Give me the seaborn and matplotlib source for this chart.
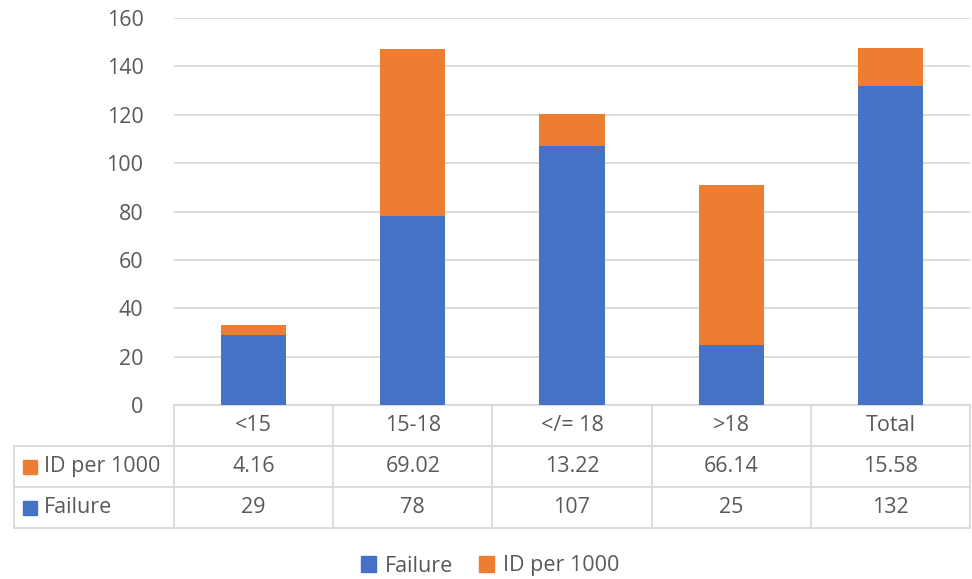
import matplotlib
matplotlib.use("Agg")
import matplotlib.pyplot as plt
import pandas as pd
import seaborn as sns
from matplotlib.patches import Rectangle

categories = ["<15", "15-18", "</= 18", ">18", "Total"]
failure = [29, 78, 107, 25, 132]
id_per_1000 = [4.16, 69.02, 13.22, 66.14, 15.58]
id_labels = ["4.16", "69.02", "13.22", "66.14", "15.58"]
failure_labels = ["29", "78", "107", "25", "132"]

blue = "#4472C4"
orange = "#ED7D31"
grid_c = "#D9D9D9"
text_c = "#595959"

df = pd.DataFrame({"cat": categories, "failure": failure, "id": id_per_1000})
df["total"] = df["failure"] + df["id"]

sns.set_style("white")
plt.rcParams["font.family"] = ["Open Sans", "DejaVu Sans"]

fig = plt.figure(figsize=(9.72, 5.79), dpi=100)
ax = fig.add_axes([174 / 972, 1 - 405 / 579, (970 - 174) / 972, (405 - 18) / 579])

# stacked: orange total behind, blue failure in front
sns.barplot(data=df, x="cat", y="total", color=orange, width=0.41, ax=ax,
            saturation=1, zorder=3, linewidth=0)
sns.barplot(data=df, x="cat", y="failure", color=blue, width=0.41, ax=ax,
            saturation=1, zorder=3, linewidth=0)

ax.set_ylim(0, 160)
ax.set_xlim(-0.5, 4.5)
ax.set_yticks(range(0, 161, 20))
ax.yaxis.grid(True, color=grid_c, linewidth=1.3, zorder=0)
ax.set_axisbelow(True)
for s in ax.spines.values():
    s.set_visible(False)
ax.set_xlabel("")
ax.set_ylabel("")
ax.set_xticks([])
fs = 15.5
ax.tick_params(axis="y", length=0, pad=22, labelsize=fs, labelcolor=text_c)

# data table under the chart
ax_h = 405 - 18
row_h = 41 / ax_h
line_kw = dict(color=grid_c, linewidth=1.3, clip_on=False)
trans = ax.get_xaxis_transform()
px = 1 / 159.2  # one pixel in x data units
left_lbl = -0.5 - 160 * px

# horizontal lines
ax.plot([-0.5, 4.5], [0, 0], transform=trans, **line_kw)
for k in (1, 2, 3):
    ax.plot([left_lbl, 4.5], [-row_h * k, -row_h * k], transform=trans, **line_kw)
# vertical lines
for i in range(6):
    ax.plot([i - 0.5, i - 0.5], [0, -3 * row_h], transform=trans, **line_kw)
ax.plot([left_lbl, left_lbl], [-row_h, -3 * row_h], transform=trans, **line_kw)

for i, c in enumerate(categories):
    ax.text(i, -0.5 * row_h, c, transform=trans, ha="center", va="center",
            fontsize=fs, color=text_c)
    ax.text(i, -1.5 * row_h, id_labels[i], transform=trans, ha="center",
            va="center", fontsize=fs, color=text_c)
    ax.text(i, -2.5 * row_h, failure_labels[i], transform=trans, ha="center",
            va="center", fontsize=fs, color=text_c)

sq_w = 14 * px
sq_h = 14 / ax_h
for r, (name, col) in enumerate([("ID per 1000", orange), ("Failure", blue)]):
    yc = -(1.5 + r) * row_h
    ax.add_patch(Rectangle((left_lbl + 9 * px, yc - sq_h / 2), sq_w, sq_h,
                           transform=trans, color=col, clip_on=False))
    ax.text(left_lbl + 30 * px, yc, name, transform=trans, ha="left", va="center",
            fontsize=fs, color=text_c)

# legend
handles = [Rectangle((0, 0), 1, 1, color=blue), Rectangle((0, 0), 1, 1, color=orange)]
fig.legend(handles, ["Failure", "ID per 1000"], loc="center",
           bbox_to_anchor=(490 / 972, 1 - 566 / 579), ncol=2, frameon=False,
           fontsize=fs, labelcolor=text_c, handlelength=0.7, handleheight=0.7,
           handletextpad=0.4, columnspacing=1.2)

fig.savefig("out.png", dpi=100)
